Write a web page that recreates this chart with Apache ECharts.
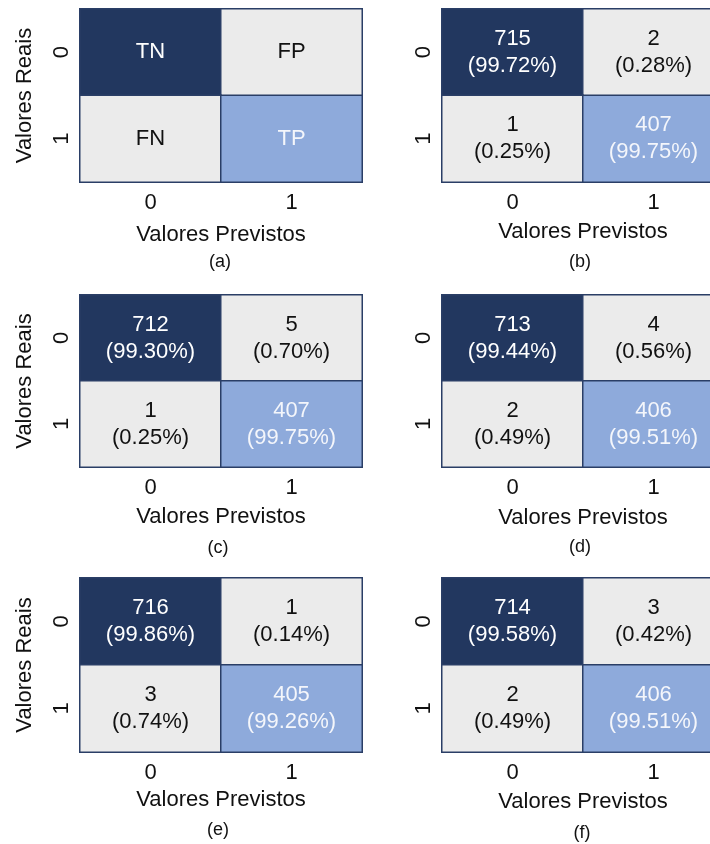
<!DOCTYPE html>
<html>
<head>
<meta charset="utf-8">
<title>Matrizes de confusão</title>
<script src="https://cdn.jsdelivr.net/npm/echarts@6/dist/echarts.min.js"></script>
<style>
  html, body { margin: 0; padding: 0; background: #ffffff; }
  #chart { width: 710px; height: 844px; }
</style>
</head>
<body>
<div id="chart"></div>
<script>
// Class labels on both axes
const classLabels = ['0', '1'];

// Cell roles, row by row (actual 0 / actual 1)
const cellRoles = [['TN', 'FP'], ['FN', 'TP']];

// Confusion matrix counts for panels (b)–(f), rows = actual, columns = predicted
const countsB = [[715, 2], [1, 407]];
const countsC = [[712, 5], [1, 407]];
const countsD = [[713, 4], [2, 406]];
const countsE = [[716, 1], [3, 405]];
const countsF = [[714, 3], [2, 406]];

// Panel captions
const captions = ['(a)', '(b)', '(c)', '(d)', '(e)', '(f)'];

const xAxisName = 'Valores Previstos';
const yAxisName = 'Valores Reais';

// Colours per cell role
const roleFill = { TN: '#22375f', FP: '#ebebeb', FN: '#ebebeb', TP: '#8eaadb' };
const roleText = { TN: '#ffffff', FP: '#111111', FN: '#111111', TP: '#f4f6fb' };
const borderColor = '#2a3e66';
const FONT = '"Liberation Sans", Arial, sans-serif';

// Panel layout (grid boxes, axis-name offsets, caption positions)
const panels = [
  { counts: null,    left: 80,  top: 9,   height: 173, nameGap: 42, yName: true,  cap: [220, 262] },
  { counts: countsB, left: 442, top: 9,   height: 173, nameGap: 39, yName: false, cap: [580, 262] },
  { counts: countsC, left: 80,  top: 295, height: 172, nameGap: 39, yName: true,  cap: [218, 548] },
  { counts: countsD, left: 442, top: 295, height: 172, nameGap: 40, yName: false, cap: [580, 547] },
  { counts: countsE, left: 80,  top: 578, height: 174, nameGap: 37, yName: true,  cap: [218, 830] },
  { counts: countsF, left: 442, top: 578, height: 174, nameGap: 39, yName: false, cap: [582, 833] }
];
const PANEL_W = 282;

const grid = [], xAxis = [], yAxis = [], series = [], graphic = [];

panels.forEach((p, i) => {
  // The right-hand column runs past the page edge, so the grid is not confined to the canvas
  grid.push({ left: p.left, top: p.top, width: PANEL_W, height: p.height, outerBoundsMode: 'none', containLabel: false });

  xAxis.push({
    type: 'category', gridIndex: i, data: classLabels, position: 'bottom',
    axisLine: { show: false }, axisTick: { show: false }, splitLine: { show: false },
    axisLabel: { margin: 10, fontSize: 22, color: '#111111', fontFamily: FONT },
    name: xAxisName, nameLocation: 'middle', nameGap: p.nameGap,
    nameTextStyle: { fontSize: 22, color: '#111111', fontFamily: FONT }
  });

  yAxis.push({
    type: 'category', gridIndex: i, data: classLabels, inverse: true,
    axisLine: { show: false }, axisTick: { show: false }, splitLine: { show: false },
    axisLabel: { margin: 7, rotate: 90, fontSize: 22, color: '#111111', fontFamily: FONT },
    name: p.yName ? yAxisName : '', nameLocation: 'middle', nameGap: 44, nameRotate: 90,
    nameTextStyle: { fontSize: 22, color: '#111111', fontFamily: FONT }
  });

  const data = [];
  for (let r = 0; r < 2; r++) {
    for (let c = 0; c < 2; c++) {
      const role = cellRoles[r][c];
      let value, text;
      if (p.counts) {
        const count = p.counts[r][c];
        const rowSum = p.counts[r][0] + p.counts[r][1];
        value = count;
        text = count + '\n(' + (count / rowSum * 100).toFixed(2) + '%)';
      } else {
        value = 0;
        text = role;
      }
      data.push({
        value: [c, r, value],
        itemStyle: { color: roleFill[role] },
        label: { formatter: text, color: roleText[role] }
      });
    }
  }

  series.push({
    type: 'heatmap', xAxisIndex: i, yAxisIndex: i, data: data,
    itemStyle: { borderColor: borderColor, borderWidth: 1.5 },
    label: { show: true, fontSize: 22, lineHeight: 27, fontFamily: FONT, align: 'center' },
    emphasis: { disabled: true },
    silent: true
  });

  graphic.push({
    type: 'text', x: p.cap[0], y: p.cap[1],
    style: { text: captions[i], fontSize: 18, fontFamily: FONT, fill: '#111111',
             textAlign: 'center', textVerticalAlign: 'middle' }
  });
});

const chart = echarts.init(document.getElementById('chart'), null, { renderer: 'canvas' });
chart.setOption({
  animation: false,
  backgroundColor: '#ffffff',
  grid, xAxis, yAxis, series, graphic
});
</script>
</body>
</html>
